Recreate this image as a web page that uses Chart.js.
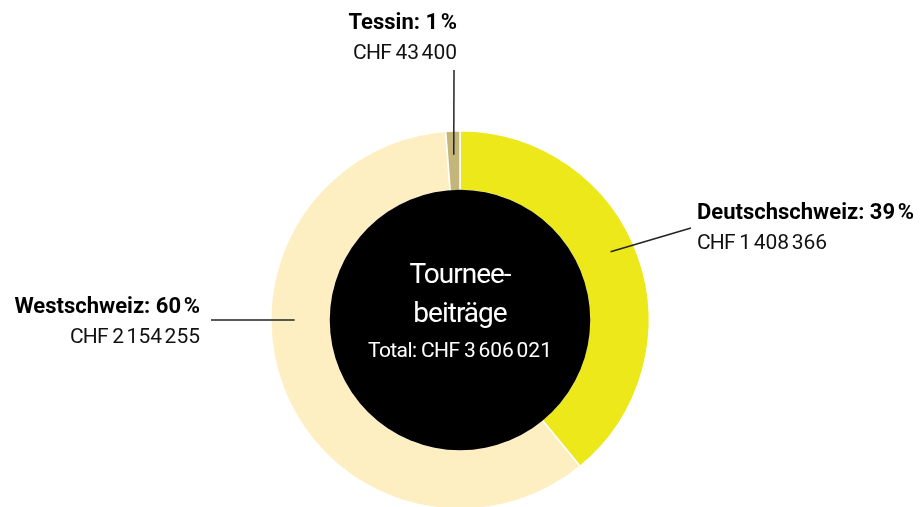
<!DOCTYPE html>
<html lang="de">
<head>
    <meta charset="UTF-8">
    <title>Tourneebeiträge</title>
    <script src="https://cdn.jsdelivr.net/npm/chart.js"></script>
    <style>
        html, body { margin: 0; padding: 0; background: #fff; overflow: hidden; }
        #wrap { position: relative; width: 922px; height: 640px; }
    </style>
</head>
<body>
    <div id="wrap">
        <canvas id="tournee" width="922" height="640"></canvas>
    </div>
    <script>
        // Daten
        const regionen = ['Deutschschweiz', 'Westschweiz', 'Tessin'];
        const betraege = [1408366, 2154255, 43400];
        const prozente = [39, 60, 1];
        const farben = ['#ece81a', '#feefc3', '#c4b57a'];

        const NS = '\u202F';
        const SCHRIFT = '"Roboto", "Liberation Sans", sans-serif';

        function chf(n) {
            return 'CHF ' + String(n).replace(/\B(?=(\d{3})+(?!\d))/g, NS);
        }

        const total = betraege.reduce((a, b) => a + b, 0);

        // Beschriftungen: Winkel der Führungslinie (Grad ab oben, im Uhrzeigersinn), Ende der Linie, Textposition
        const beschriftung = [
            { winkel: 65.6, ende: [691, 228], text: [697, 219], align: 'left' },
            { winkel: 270, ende: [211, 320], text: [200, 313], align: 'right' },
            { winkel: null, ende: [454, 70], text: [457, 29], align: 'right' }
        ];

        const labelPlugin = {
            id: 'labels',
            afterDatasetsDraw(chart) {
                const ctx = chart.ctx;
                const meta = chart.getDatasetMeta(0);
                const arc0 = meta.data[0];
                const cx = arc0.x, cy = arc0.y;
                const inner = arc0.innerRadius, outer = arc0.outerRadius;

                // schwarzer Kreis in der Mitte
                ctx.save();
                ctx.beginPath();
                ctx.arc(cx, cy, inner + 0.8, 0, Math.PI * 2);
                ctx.fillStyle = '#000';
                ctx.fill();

                // Text in der Mitte
                ctx.fillStyle = '#fff';
                ctx.textAlign = 'center';
                ctx.textBaseline = 'alphabetic';
                ctx.font = '28px ' + SCHRIFT;
                ctx.letterSpacing = '-1px';
                ctx.fillText('Tournee-', cx, 283);
                ctx.fillText('beiträge', cx, 322);
                ctx.font = '21px ' + SCHRIFT;
                ctx.letterSpacing = '-0.6px';
                ctx.fillText('Total: ' + chf(total), cx, 357);

                // Führungslinien und Beschriftungen
                const r = inner + (outer - inner) * 0.6;
                beschriftung.forEach((b, i) => {
                    const arc = meta.data[i];
                    let a;
                    if (b.winkel === null) {
                        a = (arc.startAngle + arc.endAngle) / 2;
                    } else {
                        a = b.winkel * Math.PI / 180 - Math.PI / 2;
                    }
                    const x0 = cx + r * Math.cos(a);
                    const y0 = cy + r * Math.sin(a);
                    ctx.beginPath();
                    ctx.moveTo(x0, y0);
                    ctx.lineTo(b.ende[0], b.ende[1]);
                    ctx.strokeStyle = '#222';
                    ctx.lineWidth = 1.5;
                    ctx.stroke();

                    ctx.fillStyle = '#000';
                    ctx.textAlign = b.align;
                    ctx.font = 'bold 22px ' + SCHRIFT;
                    ctx.letterSpacing = '0px';
                    ctx.fillText(regionen[i] + ': ' + prozente[i] + NS + '%', b.text[0], b.text[1]);
                    ctx.font = '21px ' + SCHRIFT;
                    ctx.letterSpacing = '-0.8px';
                    ctx.fillStyle = '#111';
                    ctx.fillText(chf(betraege[i]), b.text[0], b.text[1] + 30);
                });
                ctx.restore();
            }
        };

        new Chart(document.getElementById('tournee'), {
            type: 'doughnut',
            data: {
                labels: regionen,
                datasets: [{
                    data: betraege,
                    backgroundColor: farben,
                    borderColor: '#fff',
                    borderWidth: 1.5,
                    hoverOffset: 0
                }]
            },
            options: {
                responsive: false,
                animation: false,
                cutout: '68.4%',
                layout: { padding: { left: 270, right: 272, top: 130, bottom: 130 } },
                plugins: {
                    legend: { display: false },
                    tooltip: { enabled: false }
                }
            },
            plugins: [labelPlugin]
        });
    </script>
</body>
</html>
